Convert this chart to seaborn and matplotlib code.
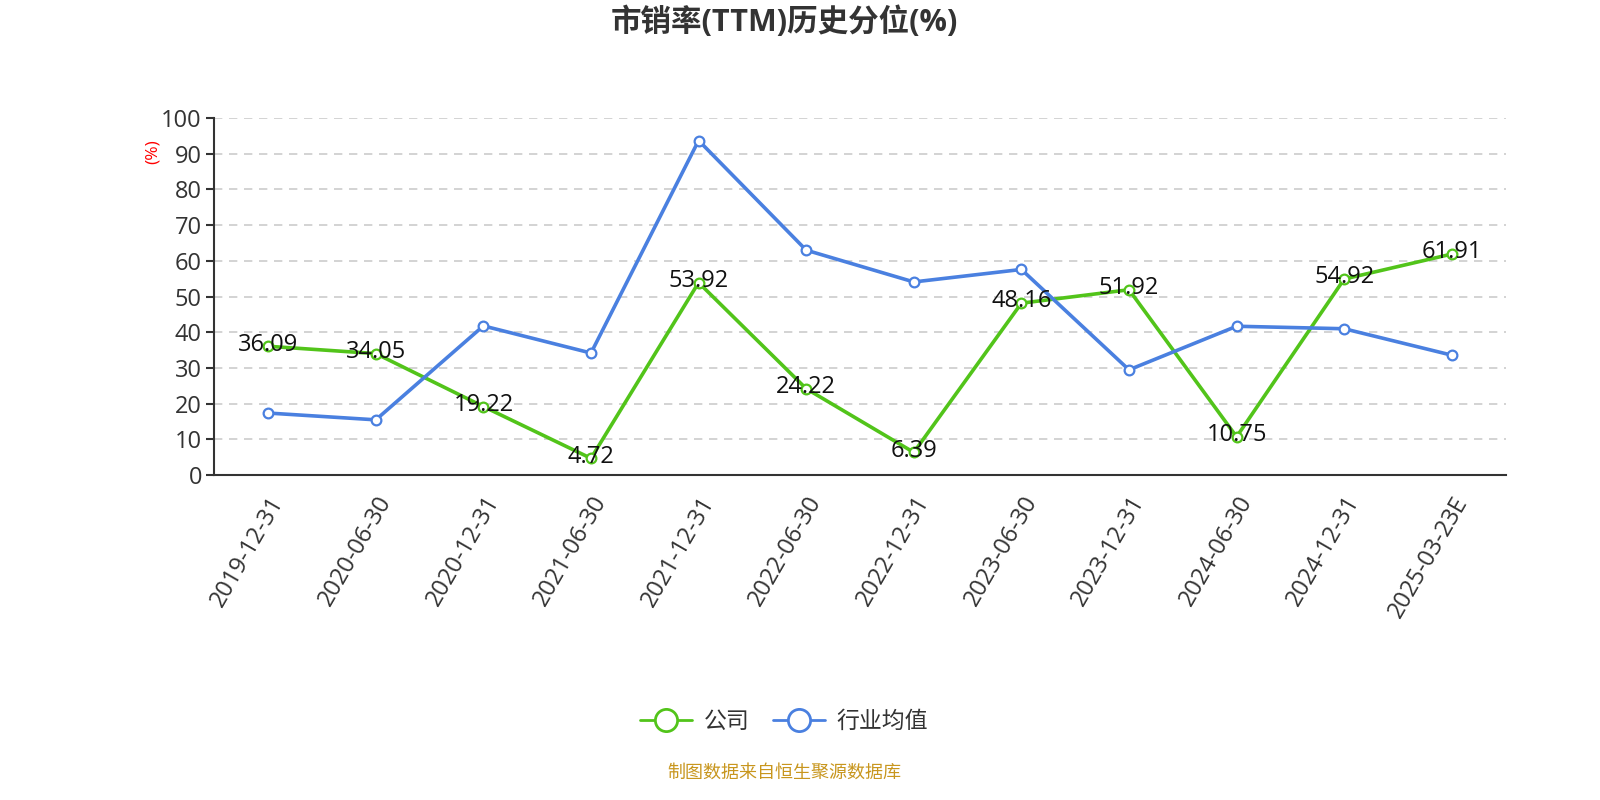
import matplotlib
matplotlib.use("Agg")
import matplotlib.pyplot as plt
import seaborn as sns
import pandas as pd
import numpy as np
from matplotlib.lines import Line2D

dates = ["2019-12-31", "2020-06-30", "2020-12-31", "2021-06-30", "2021-12-31", "2022-06-30",
         "2022-12-31", "2023-06-30", "2023-12-31", "2024-06-30", "2024-12-31", "2025-03-23E"]
company = [36.09, 34.05, 19.22, 4.72, 53.92, 24.22, 6.39, 48.16, 51.92, 10.75, 54.92, 61.91]
industry = [17.4, 15.5, 41.8, 34.2, 93.7, 63.0, 54.1, 57.6, 29.5, 41.7, 41.0, 33.6]
series_names = ["公司", "行业均值"]
colors = ["#52c41a", "#4a80e0"]

sns.set_theme(style="white")
plt.rcParams['font.family'] = ['Open Sans', 'Noto Sans CJK SC', 'DejaVu Sans']

df = pd.DataFrame({
    "idx": list(range(len(dates))) * 2,
    "value": company + industry,
    "series": [series_names[0]] * len(dates) + [series_names[1]] * len(dates),
})

fig = plt.figure(figsize=(16, 8), dpi=100)
ax = fig.add_axes([0.134, 0.406, 0.807, 0.4465])

sns.lineplot(data=df, x="idx", y="value", hue="series", palette=colors, ax=ax,
             linewidth=2.6, marker="o", markersize=7, markerfacecolor="white",
             markeredgewidth=1.6, legend=False)
for line, c in zip(ax.get_lines(), colors):
    line.set_markeredgecolor(c)

for i, v in enumerate(company):
    ax.text(i, v + 0.5, f"{v:.2f}", ha="center", va="center", fontsize=17, color="#111111", zorder=5)

ax.set_xlim(-0.5, len(dates) - 0.5)
ax.set_ylim(0, 100)
ax.set_yticks(np.arange(0, 101, 10))
ax.set_xticks(range(len(dates)))
ax.set_xticklabels(dates, rotation=60, ha="right", rotation_mode="anchor", fontsize=17, color="#333333")
ax.set_xticks(np.arange(-0.5, len(dates), 1), minor=True)
ax.tick_params(axis="x", which="major", length=0, pad=12)
ax.tick_params(axis="x", which="minor", length=7, width=1.5, color="#333333", direction="out")
ax.tick_params(axis="y", which="major", length=6, width=1.5, color="#333333", labelsize=17,
               labelcolor="#333333", direction="out", left=True, pad=3)
ax.yaxis.grid(True, linestyle=(0, (5, 4)), color="#cccccc", linewidth=1.2)
ax.xaxis.grid(False)
ax.set_axisbelow(True)
for s in ["top", "right"]:
    ax.spines[s].set_visible(False)
for s in ["left", "bottom"]:
    ax.spines[s].set_color("#333333")
    ax.spines[s].set_linewidth(1.5)
ax.set_xlabel("")
ax.set_ylabel("")

fig.text(0.0955, 0.81, "(%)", rotation=90, color="red", fontsize=12.5, ha="center", va="center")
fig.text(0.49, 0.972, "市销率(TTM)历史分位(%)", ha="center", va="center", fontsize=22,
         fontweight="bold", color="#333333")

handles = [Line2D([0], [0], color=c, lw=2, marker="o", markersize=16, markerfacecolor="white",
                  markeredgewidth=2, markeredgecolor=c) for c in colors]
fig.legend(handles, series_names, loc="center", bbox_to_anchor=(0.49, 0.098), ncol=2, frameon=False,
           fontsize=16.5, handlelength=2.3, columnspacing=1.0, handletextpad=0.5,
           labelcolor="#333333")
fig.text(0.49, 0.034, "制图数据来自恒生聚源数据库", ha="center", va="center", fontsize=13, color="#c8961e")

fig.savefig("out.png", dpi=100)
